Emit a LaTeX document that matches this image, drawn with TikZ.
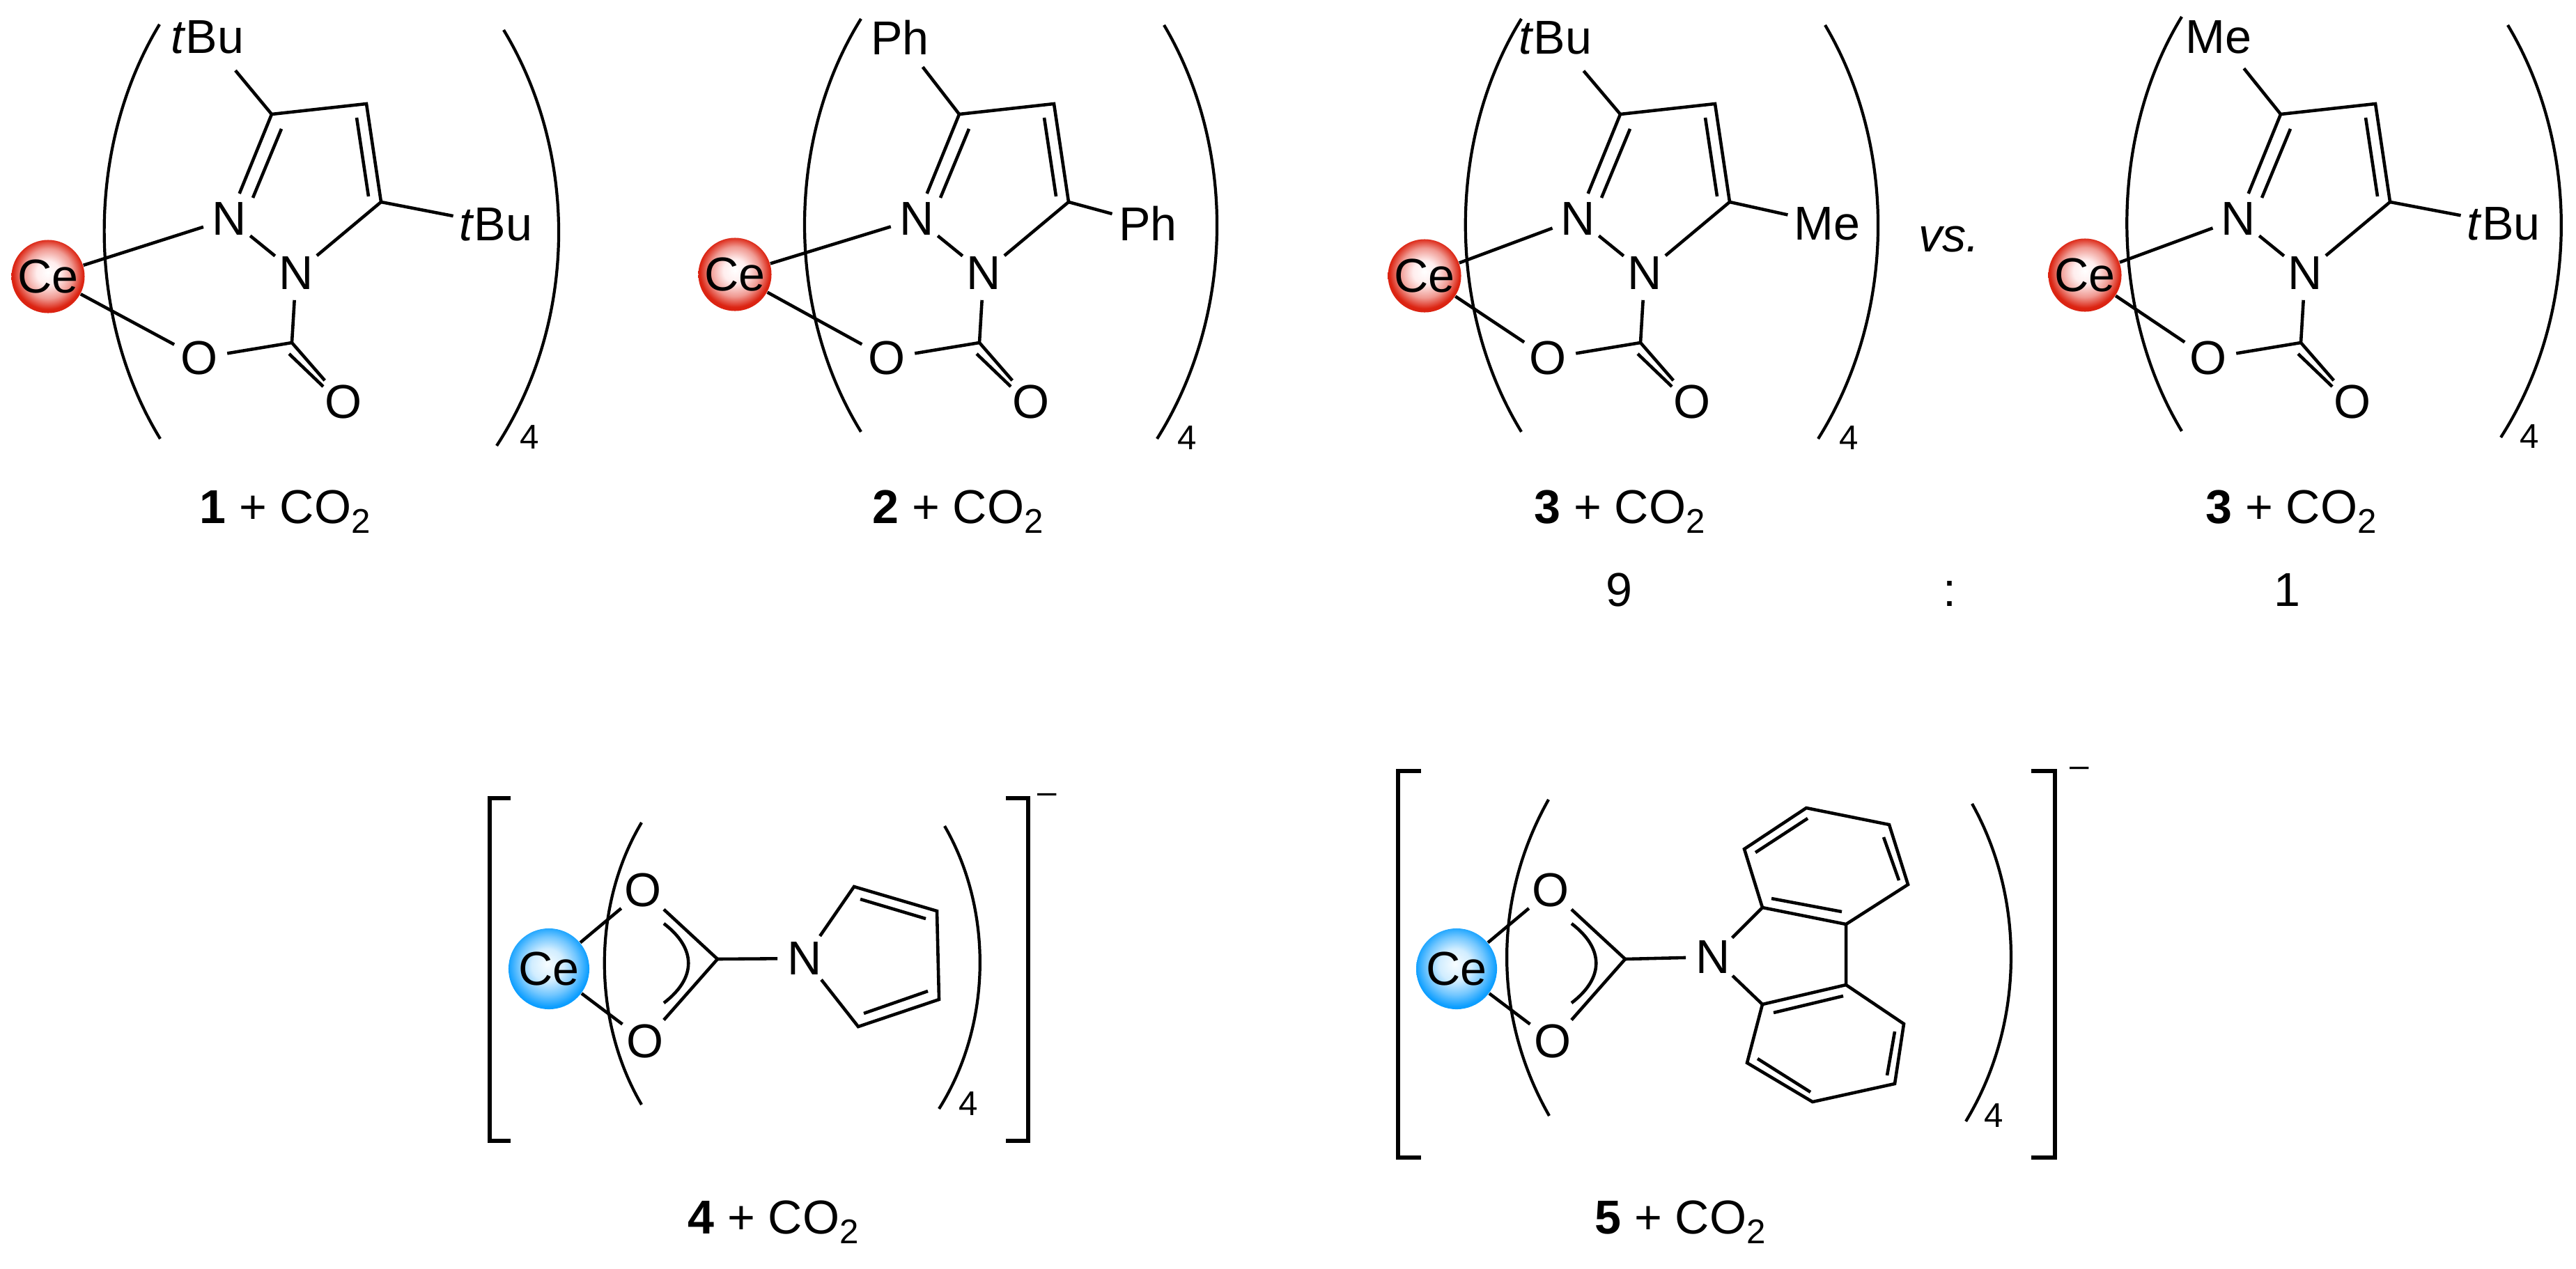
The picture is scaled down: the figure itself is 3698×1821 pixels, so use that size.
\documentclass[tikz,border=0pt]{standalone}
\usepackage{fontspec}
\setmainfont{Liberation Sans}
\pgfdeclareradialshading{redball}{\pgfpoint{0bp}{3bp}}{rgb(0bp)=(1,1,1);rgb(8bp)=(1,.93,.93);rgb(17bp)=(.94,.6,.57);rgb(24bp)=(.86,.14,.07);rgb(50bp)=(.86,.12,.05)}
\pgfdeclareradialshading{blueball}{\pgfpoint{-1bp}{3bp}}{rgb(0bp)=(.97,.99,1);rgb(10bp)=(.82,.93,1);rgb(18bp)=(.45,.78,1);rgb(25bp)=(.05,.62,1);rgb(50bp)=(0,.6,1)}
\tikzset{
  bond/.style={line width=1.3pt,line join=miter},
  paren/.style={line width=1.2pt},
  bracket/.style={line width=1.5pt},
  atom/.style={circle,inner sep=0pt,outer sep=0.05cm},
  plain/.style={inner sep=0pt},
  small/.style={inner sep=0pt,font=\fontsize{14}{14}\selectfont},
  cered/.style={circle,inner sep=0pt,minimum size=1.05cm,shade,shading=redball},
  ceblue/.style={circle,inner sep=0pt,minimum size=1.16cm,shade,shading=blueball}
}
\newcommand{\cotwo}{CO\raisebox{-4pt}{\fontsize{14}{14}\selectfont 2}}
\newcommand{\pzcore}{
  \node[atom] (n1) at (329,314) {N};
  \node[atom] (n2) at (425,392) {N};
  \node[atom] (o1) at (286,514) {O};
  \node[atom] (o2) at (493,577) {O};
  \coordinate (c3) at (390,164);
  \coordinate (c4) at (526,149);
  \coordinate (c5) at (547,290);
  \coordinate (cc) at (419,492);
  \coordinate (d1) at (404,185); \coordinate (d2) at (363,284);
  \coordinate (d3) at (512,169); \coordinate (d4) at (529,282);
  \coordinate (d5) at (415,508); \coordinate (d6) at (464,555);
  \draw[bond] (n1) -- (c3) -- (c4) -- (c5) -- (n2) (n1) -- (n2) -- (cc) -- (o1) (cc) -- (o2);
  \draw[bond] (d1) -- (d2) (d3) -- (d4) (d5) -- (d6);
}
\newcommand{\cacore}{
  \node[ceblue] (ce) at (788,1391) {Ce};
  \node[atom] (ot) at (923,1278) {O};
  \node[atom] (ob) at (926,1495) {O};
  \coordinate (cc) at (1030,1377);
  \coordinate (a1) at (953,1326); \coordinate (a2) at (953,1440);
  \draw[bond] (ce) -- (ot) (ce) -- (ob) (ot) -- (cc) -- (ob);
  \draw[bond] (a1) .. controls (1000,1362) and (1000,1404) .. (a2);
}
\begin{document}
\begin{tikzpicture}[x=0.01cm,y=-0.01cm,every node/.style={font=\fontsize{19.4}{22}\selectfont}]
  \useasboundingbox (0,0) rectangle (3698,1821);

  \begin{scope}
    \pzcore
    \node[cered] (ce) at (69,397) {Ce};
    \node[atom] (r1) at (298,53) {\textit{t}Bu};
    \node[atom] (r2) at (712,322) {\textit{t}Bu};
    \draw[bond] (ce) -- (n1) (ce) -- (o1) (r1) -- (c3) (c5) -- (r2);
    \draw[paren] (229,35) .. controls (123,210) and (123,455) .. (230,630);
    \draw[paren] (723,43) .. controls (830,220) and (830,460) .. (713,640);
    \node[small] (q1) at (760,628) {4};
    \node[plain,anchor=base] (l1) at (409,751) {\textbf{1} + \cotwo};
  \end{scope}

  \begin{scope}[shift={(987,0)}]
    \pzcore
    \node[cered] (ce) at (68,394) {Ce};
    \node[atom] (r1) at (305,54) {Ph};
    \node[atom] (r2) at (661,321) {Ph};
    \draw[bond] (ce) -- (n1) (ce) -- (o1) (r1) -- (c3) (c5) -- (r2);
    \draw[paren] (249,27) .. controls (141,200) and (141,445) .. (249,620);
    \draw[paren] (684,36) .. controls (787,210) and (787,450) .. (674,630);
    \node[small] (q2) at (717,629) {4};
    \node[plain,anchor=base] (l2) at (388,751) {\textbf{2} + \cotwo};
  \end{scope}

  \begin{scope}[shift={(1936,0)}]
    \pzcore
    \node[cered] (ce) at (109,396) {Ce};
    \node[atom] (r1) at (297,54) {\textit{t}Bu};
    \node[atom] (r2) at (687,321) {Me};
    \draw[bond] (ce) -- (n1) (ce) -- (o1) (r1) -- (c3) (c5) -- (r2);
    \draw[paren] (248,27) .. controls (141,200) and (141,445) .. (248,620);
    \draw[paren] (684,36) .. controls (787,210) and (787,450) .. (674,630);
    \node[small] (q3) at (718,629) {4};
    \node[plain,anchor=base] (l3) at (389,751) {\textbf{3} + \cotwo};
  \end{scope}

  \begin{scope}[shift={(2884,0)}]
    \pzcore
    \node[cered] (ce) at (109,395) {Ce};
    \node[atom] (r1) at (301,53) {Me};
    \node[atom] (r2) at (710,321) {\textit{t}Bu};
    \draw[bond] (ce) -- (n1) (ce) -- (o1) (r1) -- (c3) (c5) -- (r2);
    \draw[paren] (248,24) .. controls (143,195) and (143,445) .. (248,619);
    \draw[paren] (716,36) .. controls (820,210) and (820,450) .. (706,628);
    \node[small] (q4) at (747,627) {4};
    \node[plain,anchor=base] (l4) at (405,751) {\textbf{3} + \cotwo};
  \end{scope}

  \node[plain] (vs) at (2798,344) {\textit{vs.}};
  \node[plain,anchor=base] (r9) at (2324,870) {9};
  \node[plain,anchor=base] (rc) at (2799,870) {:};
  \node[plain,anchor=base] (r1) at (3283,870) {1};

  \begin{scope}
    \cacore
    \node[atom] (n) at (1155,1376) {N};
    \coordinate (p2) at (1226,1273);
    \coordinate (p3) at (1345,1308);
    \coordinate (p4) at (1348,1435);
    \coordinate (p5) at (1232,1474);
    \coordinate (e1) at (1235,1291); \coordinate (e2) at (1329,1319);
    \coordinate (e3) at (1240,1455); \coordinate (e4) at (1332,1423);
    \draw[bond] (cc) -- (n) -- (p2) -- (p3) -- (p4) -- (p5) -- (n);
    \draw[bond] (e1) -- (e2) (e3) -- (e4);
    \draw[paren] (921,1181) .. controls (850,1300) and (850,1465) .. (921,1586);
    \draw[paren] (1356,1186) .. controls (1425,1305) and (1425,1470) .. (1348,1592);
    \draw[bracket] (733,1146) -- (703,1146) -- (703,1638) -- (733,1638);
    \draw[bracket] (1444,1146) -- (1476,1146) -- (1476,1638) -- (1444,1638);
    \node[small] (q5) at (1390,1585) {4};
    \node[small] (m4) at (1503,1146) {--};
    \node[plain,anchor=base] (l5) at (1110,1771) {\textbf{4} + \cotwo};
  \end{scope}

  \begin{scope}[shift={(1303,0)}]
    \cacore
  \end{scope}
  \coordinate (cx) at (2333,1377);
  \node[atom] (nc) at (2459,1374) {N};
  \coordinate (a) at (2530,1303); \coordinate (b) at (2650,1327);
  \coordinate (c) at (2650,1414); \coordinate (d) at (2530,1442);
  \coordinate (e) at (2504,1219); \coordinate (f) at (2593,1160);
  \coordinate (g) at (2712,1184); \coordinate (h) at (2739,1270);
  \coordinate (i) at (2508,1526); \coordinate (j) at (2602,1582);
  \coordinate (k) at (2720,1556); \coordinate (l) at (2733,1470);
  \draw[bond] (cx) -- (nc) -- (a) -- (e) -- (f) -- (g) -- (h) -- (b) -- (a);
  \draw[bond] (nc) -- (d) -- (i) -- (j) -- (k) -- (l) -- (c) -- (d) (b) -- (c);
  \coordinate (s1) at (2520,1224); \coordinate (s2) at (2595,1175);
  \coordinate (s3) at (2704,1202); \coordinate (s4) at (2726,1264);
  \coordinate (s5) at (2543,1290); \coordinate (s6) at (2644,1309);
  \coordinate (s7) at (2546,1454); \coordinate (s8) at (2646,1430);
  \coordinate (s9) at (2523,1520); \coordinate (s10) at (2599,1568);
  \coordinate (s11) at (2709,1544); \coordinate (s12) at (2720,1481);
  \draw[bond] (s1) -- (s2) (s3) -- (s4) (s5) -- (s6) (s7) -- (s8) (s9) -- (s10) (s11) -- (s12);
  \draw[paren] (2223,1148) .. controls (2143,1290) and (2143,1460) .. (2224,1602);
  \draw[paren] (2831,1154) .. controls (2907,1290) and (2907,1470) .. (2822,1610);
  \draw[bracket] (2040,1107) -- (2007,1107) -- (2007,1662) -- (2040,1662);
  \draw[bracket] (2916,1107) -- (2950,1107) -- (2950,1662) -- (2916,1662);
  \node[small] (q6) at (2862,1602) {4};
  \node[small] (m5) at (2985,1108) {--};
  \node[plain,anchor=base] (l6) at (2412,1771) {\textbf{5} + \cotwo};
\end{tikzpicture}
\end{document}
